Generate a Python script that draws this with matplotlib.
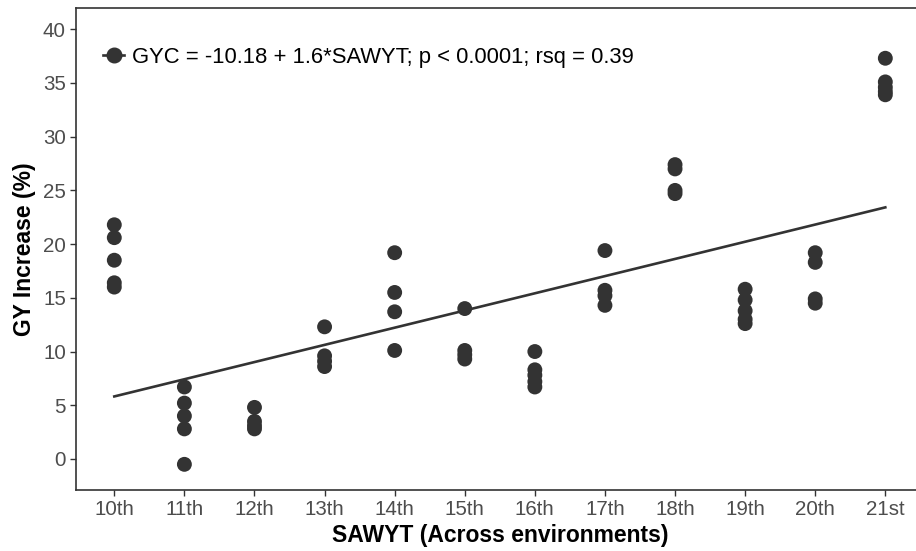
import matplotlib.pyplot as plt
from matplotlib.lines import Line2D
import numpy as np

plt.rcParams['font.family'] = ['Liberation Sans', 'DejaVu Sans']

# SAWYT nursery number and GY increase (%) per environment
sawyt = [10, 11, 12, 13, 14, 15, 16, 17, 18, 19, 20, 21]
tick_labels = ['10th', '11th', '12th', '13th', '14th', '15th',
               '16th', '17th', '18th', '19th', '20th', '21st']
gy_increase = [
    [21.8, 20.6, 18.5, 16.4, 16.0],
    [6.7, 5.2, 4.0, 2.8, -0.5],
    [4.8, 3.5, 3.1, 2.8],
    [12.3, 9.6, 9.1, 8.6],
    [19.2, 15.5, 13.7, 10.1],
    [14.0, 10.1, 9.7, 9.3],
    [10.0, 8.3, 7.8, 7.2, 6.7],
    [19.4, 15.7, 15.2, 14.3],
    [27.4, 27.0, 25.0, 24.7],
    [15.8, 14.8, 13.8, 13.0, 12.6],
    [19.2, 18.3, 14.9, 14.5],
    [37.3, 35.1, 34.6, 34.2, 33.9],
]

# fitted model
intercept = -10.18
slope = 1.6
p_text = 'p < 0.0001'
rsq = 0.39

dark = '#333333'

fig = plt.figure(figsize=(9.16, 5.51), dpi=100)
ax = fig.add_axes([0.0833, 0.1107, 0.9253, 0.8748])

for x, ys in zip(sawyt, gy_increase):
    ax.scatter([x] * len(ys), ys, s=115, color=dark, edgecolors='none', zorder=3)

xfit = np.array([sawyt[0], sawyt[-1]])
ax.plot(xfit, intercept + slope * xfit, color=dark, lw=1.9, zorder=2)

ax.set_xlim(9.458, 21.55)
ax.set_ylim(-2.89, 41.98)
ax.set_xticks(sawyt)
ax.set_xticklabels(tick_labels)
ax.set_yticks(np.arange(0, 41, 5))

ax.tick_params(labelsize=14.8, labelcolor='#4d4d4d', color='#333333',
               length=4.5, width=1, pad=3)
for side in ['left', 'bottom', 'top']:
    ax.spines[side].set_color('#333333')
    ax.spines[side].set_linewidth(1.2)
ax.spines['right'].set_visible(False)

ax.set_xlabel('SAWYT (Across environments)', fontsize=16.5,
              fontweight='bold', labelpad=3)
ax.set_ylabel('GY Increase (%)', fontsize=16.5, fontweight='bold', labelpad=5)

label = f'GYC = {intercept} + {slope}*SAWYT; {p_text}; rsq = {rsq}'
handle = Line2D([], [], color=dark, lw=1.9, marker='o', markersize=10.5)
ax.legend(handles=[handle], labels=[label], loc='upper left',
          bbox_to_anchor=(0.032, 0.92), frameon=False, fontsize=15.8,
          borderaxespad=0, borderpad=0,
          handlelength=0.95, handletextpad=0.35)

fig.savefig('out.png', dpi=100)
